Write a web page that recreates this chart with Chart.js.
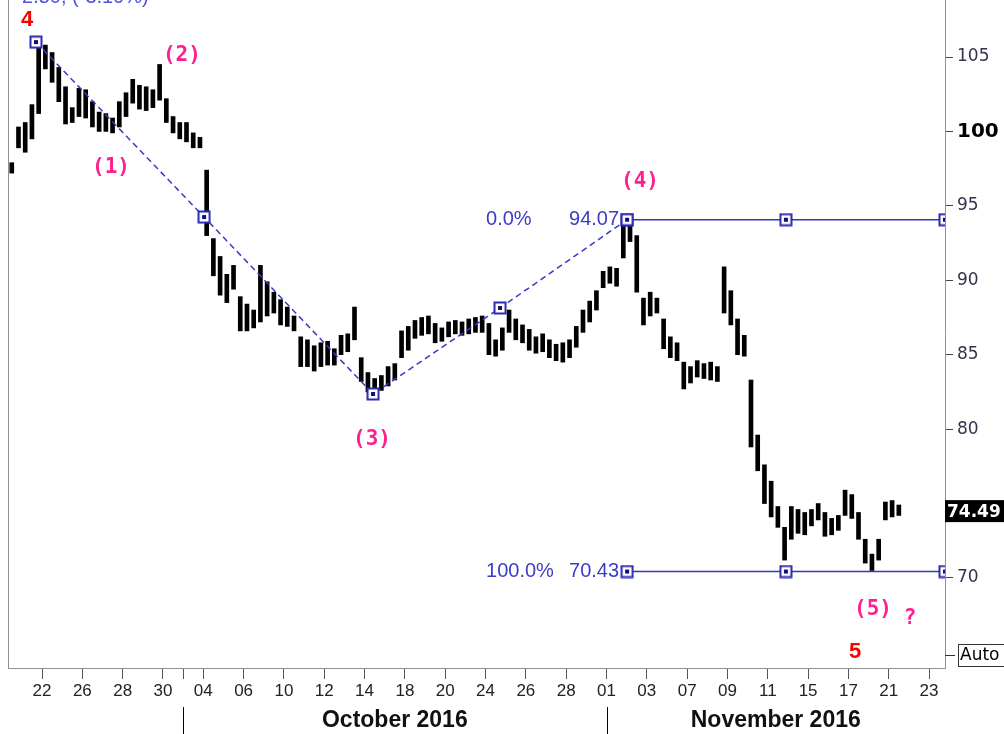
<!DOCTYPE html>
<html>
<head>
<meta charset="utf-8">
<script src="https://cdn.jsdelivr.net/npm/chart.js@4.4.0/dist/chart.umd.min.js"></script>
<style>
  html, body { margin: 0; padding: 0; background: #fff; }
  canvas { display: block; }
</style>
</head>
<body>
<canvas id="chart" width="1004" height="734"></canvas>
<script>
// trading sessions shown, Sep 20 .. Nov 23 2016 (index 0 of the axis = Sep 22)
const sessions = [
  '2016-09-20','2016-09-21','2016-09-22','2016-09-23','2016-09-26','2016-09-27','2016-09-28','2016-09-29','2016-09-30',
  '2016-10-03','2016-10-04','2016-10-05','2016-10-06','2016-10-07','2016-10-10','2016-10-11','2016-10-12','2016-10-13',
  '2016-10-14','2016-10-17','2016-10-18','2016-10-19','2016-10-20','2016-10-21','2016-10-24','2016-10-25','2016-10-26',
  '2016-10-27','2016-10-28','2016-10-31','2016-11-01','2016-11-02','2016-11-03','2016-11-04','2016-11-07','2016-11-08',
  '2016-11-09','2016-11-10','2016-11-11','2016-11-14','2016-11-15','2016-11-16','2016-11-17','2016-11-18','2016-11-21',
  '2016-11-22','2016-11-23'
];
const firstSession = -2;

const tickLabels = ['22','26','28','30','04','06','10','12','14','18','20','24','26','28','01','03','07','09','11','15','17','21','23'];
const monthLabels = ['October 2016', 'November 2016'];

// three intraday bars per session: lows and highs
const barLows = [
  [null, 97.2, 98.9], [98.6, 99.5, 101.2], [104.2, 103.3, 102.0], [100.5, 100.6, 101.0], [100.9, 100.3, 100.0],
  [100.0, 99.9, 100.3], [101.0, 101.9, 101.5], [101.4, 101.6, 102.1], [100.6, 99.9, 99.5], [99.3, 98.9, 98.9],
  [93.0, 90.3, 89.0], [88.5, 89.4, 86.6], [86.6, 86.8, 87.2], [87.6, 87.8, 87.0], [86.9, 86.6, 84.2],
  [84.2, 83.9, 84.2], [84.3, 84.3, 85.0], [85.2, 86.0, 83.2], [82.5, 82.4, 82.6], [82.9, 83.3, 84.8],
  [85.3, 86.1, 86.3], [86.4, 85.8, 85.9], [86.2, 86.4, 86.3], [86.4, 86.5, 86.5], [85.0, 84.9, 85.3],
  [86.5, 86.0, 85.8], [85.3, 85.1, 85.2], [84.8, 84.6, 84.5], [84.8, 85.5, 86.5], [87.2, 88.0, 89.5],
  [89.8, 89.6, 91.5], [92.6, 89.2, 87.0], [87.6, 87.8, 85.4], [84.8, 84.6, 82.7], [83.1, 83.5, 83.4],
  [83.3, 83.2, 87.8], [87.0, 85.0, 84.9], [78.8, 77.2, 75.0], [74.1, 73.4, 71.2], [72.6, 73.0, 72.9],
  [73.5, 73.9, 72.8], [72.9, 73.2, 74.2], [74.0, 72.6, 71.0], [70.5, 71.2, 73.9], [74.1, 74.2, null]
];
const barHighs = [
  [null, 97.9, 100.3], [100.6, 101.8, 106.0], [105.8, 105.3, 104.3], [103.0, 101.6, 102.9], [102.8, 102.0, 101.3],
  [101.2, 100.9, 102.0], [102.6, 103.5, 103.1], [103.0, 102.8, 104.5], [102.2, 101.0, 100.6], [100.6, 99.9, 99.6],
  [97.4, 92.8, 91.6], [90.4, 91.0, 88.9], [88.4, 88.0, 91.0], [89.9, 89.2, 88.7], [88.2, 87.6, 86.2],
  [86.0, 85.6, 85.8], [85.9, 85.4, 86.3], [86.4, 88.2, 84.8], [83.8, 83.4, 83.6], [84.2, 84.4, 86.6],
  [86.9, 87.3, 87.5], [87.6, 87.1, 86.8], [87.2, 87.3, 87.2], [87.4, 87.5, 87.6], [87.1, 86.0, 86.8],
  [88.0, 87.4, 87.0], [86.7, 86.2, 86.4], [86.0, 85.7, 85.8], [86.0, 86.9, 88.0], [88.6, 89.3, 90.6],
  [90.9, 90.8, 93.7], [94.07, 93.0, 88.8], [89.2, 88.8, 87.4], [86.2, 85.8, 84.5], [84.2, 84.6, 84.4],
  [84.5, 84.2, 90.9], [89.3, 87.4, 86.3], [83.3, 79.6, 77.6], [76.5, 74.8, 73.4], [74.8, 74.6, 74.4],
  [74.6, 75.0, 74.4], [74.0, 74.2, 75.9], [75.6, 74.4, 72.6], [71.6, 72.6, 75.1], [75.2, 74.9, null]
];
const lastClose = 74.49;

// wave count pivots (session index, price)
const waveIdx = [-0.30, 8.04, 16.42, 22.72, 29.02];
const waveVals = [106.0, 94.25, 82.36, 88.14, 94.07];

// fibonacci retracement 0% / 100%
const fibLevels = [94.07, 70.43];
const fibPercents = ['0.0%', '100.0%'];
const fibIdx = [29.02, 36.9, 44.79];

const waveLabels = ['(1)', '(2)', '(3)', '(4)', '(5)', '?'];
const waveLabelIdx = [3.42, 6.94, 16.37, 29.66, 41.22, 43.06];
const waveLabelVals = [97.6, 105.1, 79.3, 96.6, 67.9, 67.3];
const degreeLabels = ['4', '5'];
const degreeIdx = [-0.74, 40.33];
const degreeVals = [107.5, 65.0];
const changeText = '2.50, (-3.19%)';

const yTicks = [70, 80, 85, 90, 95, 100, 105];

const bars = [];
barLows.forEach(function(lows, s) {
  lows.forEach(function(lo, k) {
    if (lo == null) return;
    bars.push({ x: s + firstSession + (k + 0.5) / 3, y: [lo, barHighs[s][k]] });
  });
});

const xTickValues = tickLabels.map(function(_, k) { return k * 2; });
const monthStarts = [sessions.indexOf('2016-10-03') + firstSession, sessions.indexOf('2016-11-01') + firstSession];
monthStarts.forEach(function(m) { if (xTickValues.indexOf(m) < 0) xTickValues.push(m); });
xTickValues.sort(function(a, b) { return a - b; });

function makeMarker() {
  const c = document.createElement('canvas');
  c.width = 14; c.height = 14;
  const g = c.getContext('2d');
  g.fillStyle = '#fff';
  g.fillRect(1, 1, 12, 12);
  g.strokeStyle = '#2b2bb0';
  g.lineWidth = 2;
  g.strokeRect(1.5, 1.5, 11, 11);
  g.fillStyle = '#10107a';
  g.fillRect(5, 5, 4, 4);
  return c;
}
const marker = makeMarker();

const datasets = [{
  type: 'line',
  data: waveIdx.map(function(x, k) { return { x: x, y: waveVals[k] }; }),
  borderColor: '#3a3ac4',
  borderWidth: 1.5,
  borderDash: [6, 4],
  pointStyle: marker,
  order: 0
}];
fibLevels.forEach(function(level) {
  datasets.push({
    type: 'line',
    data: fibIdx.map(function(x) { return { x: x, y: level }; }),
    borderColor: '#3434c8',
    borderWidth: 1.5,
    pointStyle: marker,
    clip: { left: 20, top: 20, right: 0, bottom: 20 },
    order: 0
  });
});
datasets.push({
  type: 'bar',
  data: bars,
  backgroundColor: '#000',
  barThickness: 4,
  borderWidth: 0,
  order: 10
});

const overlay = {
  id: 'overlay',
  beforeDatasetsDraw(chart) {
    const c = chart.ctx, a = chart.chartArea;
    c.save();
    c.strokeStyle = '#909090';
    c.lineWidth = 1;
    c.beginPath();
    c.moveTo(a.left + 0.5, a.top);
    c.lineTo(a.left + 0.5, a.bottom);
    c.stroke();
    c.restore();
  },
  afterDraw(chart) {
    const c = chart.ctx, a = chart.chartArea;
    const xs = chart.scales.x, ys = chart.scales.y;
    c.save();

    // change text, clipped by the top edge
    c.font = '20px "Liberation Sans", Arial, sans-serif';
    c.fillStyle = '#5252e0';
    c.textAlign = 'left';
    c.textBaseline = 'alphabetic';
    c.fillText(changeText, xs.getPixelForValue(-0.99), ys.getPixelForValue(108.6));

    // wave labels
    c.textAlign = 'center';
    c.textBaseline = 'middle';
    c.font = 'bold 21px "DejaVu Sans Mono", monospace';
    c.fillStyle = '#ff1f8f';
    waveLabels.forEach(function(t, k) {
      c.fillText(t, xs.getPixelForValue(waveLabelIdx[k]), ys.getPixelForValue(waveLabelVals[k]));
    });
    c.font = 'bold 22px "Liberation Sans", Arial, sans-serif';
    c.fillStyle = '#ff0000';
    degreeLabels.forEach(function(t, k) {
      c.fillText(t, xs.getPixelForValue(degreeIdx[k]), ys.getPixelForValue(degreeVals[k]));
    });

    // fib labels
    c.font = '20px "Liberation Sans", Arial, sans-serif';
    c.fillStyle = '#3c3cc8';
    const fx = xs.getPixelForValue(fibIdx[0]);
    fibLevels.forEach(function(level, k) {
      const y = ys.getPixelForValue(level);
      c.textAlign = 'left';
      c.fillText(fibPercents[k], fx - 141, y);
      c.textAlign = 'right';
      c.fillText(level.toFixed(2), fx - 8, y);
    });

    // last price box
    const py = ys.getPixelForValue(lastClose);
    c.fillStyle = '#000';
    c.fillRect(a.right, py - 11, chart.width - a.right, 22);
    c.fillStyle = '#fff';
    c.font = 'bold 17px "DejaVu Sans", sans-serif';
    c.textAlign = 'left';
    c.fillText(lastClose.toFixed(2), a.right + 2, py + 1);

    // Auto box
    const ay = a.bottom - 13;
    c.strokeStyle = '#333';
    c.lineWidth = 1;
    c.beginPath();
    c.moveTo(a.right, ay + 0.5);
    c.lineTo(a.right + 10, ay + 0.5);
    c.stroke();
    c.strokeRect(a.right + 13.5, ay - 10.5, 60, 22);
    c.fillStyle = '#000';
    c.font = '17px "DejaVu Sans", sans-serif';
    c.fillText('Auto', a.right + 15, ay + 1);

    // month row
    const m0 = xs.getPixelForValue(monthStarts[0]);
    const m1 = xs.getPixelForValue(monthStarts[1]);
    c.strokeStyle = '#000';
    c.beginPath();
    [m0, m1].forEach(function(mx) {
      c.moveTo(Math.round(mx) + 0.5, 707);
      c.lineTo(Math.round(mx) + 0.5, chart.height);
    });
    c.stroke();
    c.font = 'bold 23px "Liberation Sans", Arial, sans-serif';
    c.fillStyle = '#111';
    c.textAlign = 'center';
    c.fillText(monthLabels[0], (m0 + m1) / 2, 721);
    c.fillText(monthLabels[1], (m1 + a.right) / 2, 721);
    c.restore();
  }
};

new Chart(document.getElementById('chart'), {
  type: 'bar',
  data: { datasets: datasets },
  options: {
    responsive: false,
    animation: false,
    layout: { autoPadding: false, padding: { left: 8, top: 0, right: 0, bottom: 0 } },
    elements: { point: { radius: 7 } },
    plugins: { legend: { display: false }, tooltip: { enabled: false } },
    scales: {
      x: {
        type: 'linear',
        min: -1.687,
        max: 44.79,
        offset: false,
        afterBuildTicks: function(s) { s.ticks = xTickValues.map(function(v) { return { value: v }; }); },
        afterFit: function(s) { s.height = 66; s.paddingLeft = 0; s.paddingRight = 0; },
        grid: { drawOnChartArea: false, tickLength: 11, color: '#555', offset: false },
        border: { color: '#909090' },
        ticks: {
          autoSkip: false,
          maxRotation: 0,
          padding: 2,
          color: '#222',
          font: { family: '"Liberation Sans", Arial, sans-serif', size: 17 },
          callback: function(v) { return v % 2 === 0 ? tickLabels[v / 2] : ''; }
        }
      },
      y: {
        type: 'linear',
        position: 'right',
        min: 63.95,
        max: 108.83,
        afterBuildTicks: function(s) { s.ticks = yTicks.map(function(v) { return { value: v }; }); },
        afterFit: function(s) { s.width = 59; s.paddingTop = 0; s.paddingBottom = 0; },
        grid: { drawOnChartArea: false, tickLength: 8, color: '#444' },
        border: { color: '#909090' },
        ticks: {
          padding: 4,
          color: function(ctx) { return ctx.tick && ctx.tick.value === 100 ? '#000' : '#33334d'; },
          font: function(ctx) {
            return ctx.tick && ctx.tick.value === 100
              ? { family: '"DejaVu Sans", sans-serif', size: 20, weight: 'bold' }
              : { family: '"DejaVu Sans", sans-serif', size: 17 };
          },
          callback: function(v) { return String(v); }
        }
      }
    }
  },
  plugins: [overlay]
});
</script>
</body>
</html>
